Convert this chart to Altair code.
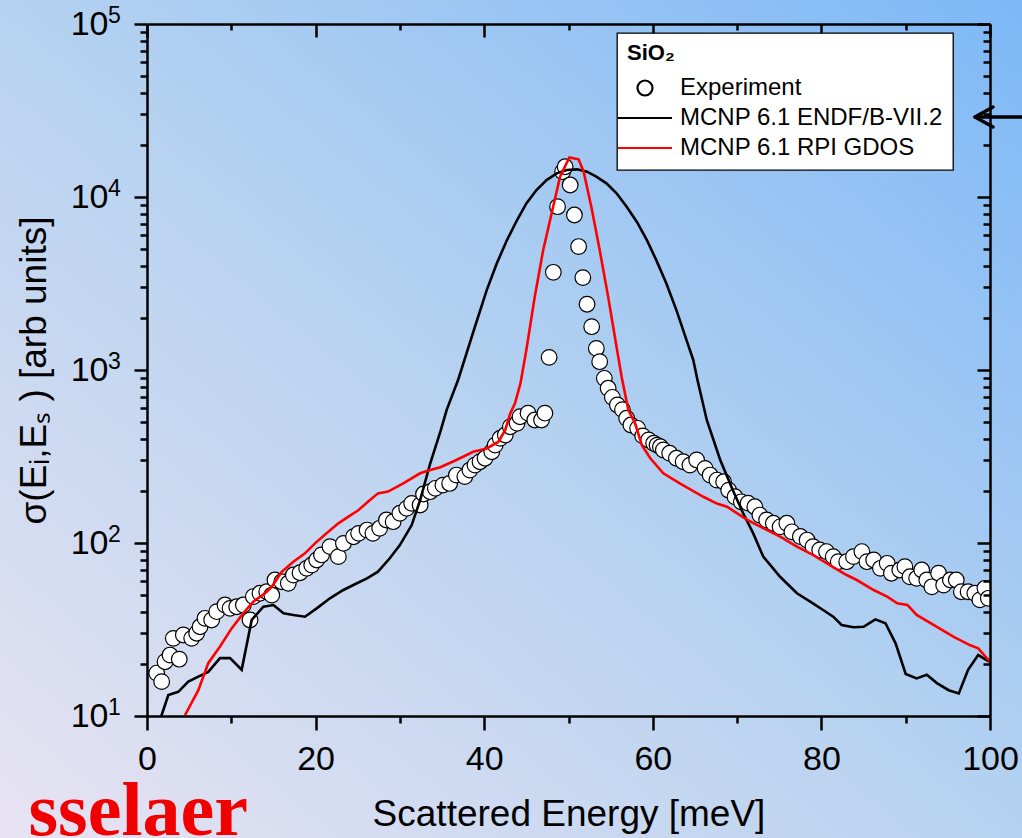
import altair as alt
import pandas as pd

# ---------------- data ----------------
series_names = ["Experiment", "MCNP 6.1 ENDF/B-VII.2", "MCNP 6.1 RPI GDOS"]

exp_x = [1.15, 1.74, 2.14, 2.73, 3.12, 3.83, 4.31, 5.30, 5.89, 6.29, 6.88, 7.67, 8.27, 9.25, 9.85,
         10.64, 11.43, 12.22, 12.61, 13.4, 14.2, 14.8, 15.18, 15.98, 16.76, 17.36, 18.15, 18.94,
         19.54, 20.13, 20.7, 21.7, 22.7, 23.3, 24.5, 25.1, 26.1, 26.8, 27.6, 28.4, 29.2, 30.0,
         30.8, 31.4, 32.4, 32.8, 33.6, 34.2, 35.1, 35.9, 36.7, 37.7, 38.3, 38.9, 39.5, 40.1, 40.9,
         41.3, 41.9, 42.5, 43.1, 43.9, 44.25, 45.2, 46.0, 46.8, 47.2, 47.7, 48.2, 48.7, 49.3, 49.6,
         50.2, 50.7, 51.2, 51.7, 52.2, 52.75, 53.3, 53.7, 54.25, 54.7, 55.2, 55.8, 56.4, 56.9,
         57.4, 58.2, 58.8, 59.5, 60.1, 60.5, 60.9, 61.25, 62.0, 62.8, 63.6, 64.4, 65.2, 66.2,
         66.8, 67.6, 68.4, 69.0, 69.75, 70.5, 71.3, 72.1, 72.7, 73.5, 74.3, 75.1, 75.9, 76.5,
         77.5, 78.3, 79.0, 79.8, 80.6, 81.4, 82.0, 83.0, 83.8, 84.8, 85.4, 86.2, 87.0, 87.8,
         88.3, 89.3, 89.9, 90.5, 91.3, 91.9, 92.5, 93.1, 93.9, 94.5, 95.3, 96.0, 96.6, 97.4,
         98.2, 98.8, 99.4, 99.8]
exp_y = [17.7, 15.8, 20.6, 22.5, 28.1, 21.3, 29.4, 28.1, 30.1, 32.8, 36.7, 35.9, 40.1, 43.8, 41.9,
         42.8, 43.8, 35.9, 49.0, 51.2, 52.3, 50.0, 61.1, 59.7, 58.5, 65.3, 67.3, 71.4,
         74.6, 79.8, 85.3, 95.3, 83.4, 99.5, 108.7, 113.7, 118.8, 113.7, 121.6, 135.8, 132.8, 148.5,
         158.5, 169.4, 165.9, 192.0, 198.0, 207.0, 216.0, 221.0, 247.0, 242.0, 264.0, 282.0, 295.0,
         309.0, 337.0, 368.0, 403.0, 421.0, 470.0, 492.0, 537.0, 563.0, 514.0, 514.0, 563.0, 1183.0,
         3670.0, 8790.0, 14000.0, 14960.0, 11730.0, 7870.0, 5170.0, 3420.0, 2400.0, 1780.0, 1333.0,
         1117.0, 895.0, 784.0, 695.0, 628.0, 590.0, 526.0, 481.0, 460.0, 416.0, 394.0, 377.0, 368.0,
         360.0, 345.0, 330.0, 309.0, 295.0, 282.0, 302.0, 270.0, 247.0, 231.0, 226.0, 202.0, 185.0,
         173.0, 170.0, 162.0, 145.0, 136.0, 130.0, 124.0, 130.0, 116.0, 109.0, 104.0, 95.3, 91.2,
         89.2, 83.4, 78.0, 78.0, 83.4, 89.2, 78.0, 79.8, 71.4, 76.3, 66.9, 69.8, 73.0, 63.8, 62.5,
         69.8, 61.1, 55.8, 66.9, 57.1, 61.1, 61.1, 52.3, 52.3, 51.2, 46.9, 54.7, 47.9]

endf_x = [1.7, 2.53, 3.71, 4.9, 6.09, 7.27, 8.66, 9.85, 11.23, 12.42, 13.8, 15.0, 16.2, 17.36, 18.74,
          20.13, 21.7, 23.3, 24.9, 26.1, 27.4, 28.8, 30.0, 31.4, 32.4, 33.6, 34.8, 35.55, 36.9,
          38.9, 40.3, 41.5, 42.7, 43.9, 45.0, 46.2, 47.4, 48.6, 49.8, 51.0, 52.2, 53.3, 54.5,
          55.7, 56.9, 58.1, 59.3, 60.4, 61.6, 62.8, 64.0, 64.8, 65.3, 66.4, 68.0, 69.5, 70.7,
          71.9, 73.1, 75.1, 77.1, 79.0, 80.2, 81.4, 82.4, 83.8, 85.0, 86.4, 87.6, 88.8, 90.0,
          91.3, 92.5, 93.7, 95.1, 96.3, 97.4, 98.6, 99.9]
endf_y = [10.0, 13.2, 13.8, 15.8, 16.9, 18.0, 21.6, 21.6, 18.5, 35.9, 42.8, 43.8, 39.3, 38.4, 37.5,
          41.9, 47.9, 53.5, 58.5, 62.5, 68.3, 81.6, 97.3, 127.0, 177.0, 289.0, 440.0, 588.0, 875.0,
          1778.0, 2897.0, 4140.0, 5636.0, 7360.0, 9183.0, 10970.0, 12530.0, 13700.0, 14320.0,
          14450.0, 14000.0, 13100.0, 12000.0, 10500.0, 8790.0, 7200.0, 5636.0, 4330.0, 3170.0,
          2220.0, 1489.0, 1143.0, 875.0, 514.0, 302.0, 202.0, 149.0, 114.0, 83.4, 63.8, 51.2,
          44.8, 41.0, 37.5, 33.6, 32.6, 32.8, 36.2, 34.4, 26.3, 17.5, 16.5, 17.3, 15.5, 14.1,
          13.5, 18.5, 22.5, 20.6]

rpi_x = [4.5, 6.09, 7.27, 8.66, 10.04, 11.43, 12.61, 14.0, 14.8, 15.98, 17.36, 18.74, 19.93, 21.3,
         22.7, 23.9, 25.1, 26.45, 27.4, 28.6, 30.4, 32.4, 33.6, 34.8, 36.7, 38.7, 40.3, 41.7,
         42.5, 43.1, 43.65, 44.3, 45.0, 46.0, 47.0, 48.0, 49.0, 50.1, 51.2, 51.8, 52.75, 53.7,
         54.7, 55.5, 56.3, 57.1, 57.9, 58.7, 59.7, 61.25, 63.2, 66.0, 67.6, 68.8, 71.2, 73.1,
         75.1, 77.1, 79.0, 81.0, 83.0, 84.2, 86.2, 87.8, 89.0, 90.2, 91.3, 93.7, 95.7, 97.6,
         98.6, 100.0]
rpi_y = [10.1, 14.1, 20.2, 25.2, 32.1, 39.3, 45.8, 51.2, 55.8, 68.2, 78.0, 87.1, 99.5, 113.7,
         130.0, 141.9, 155.2, 177.4, 193.6, 198.2, 221.3, 252.9, 264.2, 274.0, 302.0, 337.0,
         352.0, 385.0, 450.0, 562.0, 641.0, 836.0, 1306.0, 2655.0, 4943.0, 8054.0, 13090.0,
         16940.0, 16520.0, 14000.0, 8590.0, 4943.0, 2655.0, 1556.0, 914.0, 587.0, 492.0, 368.0,
         309.0, 253.0, 221.0, 185.0, 169.0, 162.0, 136.0, 122.0, 109.0, 95.3, 85.3, 74.6, 65.3,
         61.1, 53.5, 49.0, 44.8, 43.9, 38.4, 32.8, 28.7, 25.7, 24.6, 20.6]

x_ticks = [0, 10, 20, 30, 40, 50, 60, 70, 80, 90, 100]
y_exponents = [1, 2, 3, 4, 5]
y_ticks = [m * 10 ** e for e in range(1, 5) for m in range(1, 10)] + [10 ** 5]

x_title = "Scattered Energy [meV]"
y_title = "σ(Eᵢ,Eₛ ) [arb units]"
legend_title = "SiO₂"
logo_text = "sselaer"

# ---------------- tables ----------------
exp_df = pd.DataFrame({"energy": exp_x, "sigma": exp_y, "series": series_names[0]})
lines_df = pd.concat([
    pd.DataFrame({"energy": endf_x, "sigma": endf_y, "series": series_names[1]}),
    pd.DataFrame({"energy": rpi_x, "sigma": rpi_y, "series": series_names[2]}),
], ignore_index=True)
dec_df = pd.DataFrame({"val": [10 ** e for e in y_exponents], "lab": [str(e) for e in y_exponents]})
one = pd.DataFrame({"k": [0]})

W, H = 843, 692
FONT = "Liberation Sans"

xscale = alt.Scale(domain=[0, 100], nice=False, zero=False)
yscale = alt.Scale(type="log", domain=[10, 100000], nice=False)

LINE_PATH = "M-3.6,0H3.6"
shape_scale = alt.Scale(domain=series_names, range=["circle", LINE_PATH, LINE_PATH])
fill_scale = alt.Scale(domain=series_names, range=["white", "transparent", "transparent"])
stroke_scale = alt.Scale(domain=series_names, range=["black", "black", "#ff0000"])

leg = alt.Legend(title=legend_title, orient="none", legendX=470, legendY=9, zindex=2)

major_y = "indexof([10,100,1000,10000,100000], datum.value) >= 0"
major_x = "datum.value % 20 === 0"

common_axis = dict(grid=False, zindex=1, domainWidth=2.5, tickWidth=2.5,
                   domainColor="black", tickColor="black", labelColor="black",
                   titleColor="black", labelFont=FONT, titleFont=FONT)

bottom_axis = alt.Axis(orient="bottom", values=x_ticks,
                       tickSize={"condition": {"test": major_x, "value": 14}, "value": 7},
                       labelExpr="datum.value % 20 === 0 ? datum.label : ''",
                       labelFontSize=34, labelPadding=12, labelFlush=False, labelOverlap=False,
                       title=x_title, titleFontSize=37, titleFontWeight="normal", titlePadding=20,
                       **common_axis)
top_axis = alt.Axis(orient="bottom", offset=-H, values=x_ticks,
                    tickSize={"condition": {"test": major_x, "value": 13}, "value": 6},
                    labels=False, title=None, **common_axis)
left_axis = alt.Axis(orient="left", values=y_ticks,
                     tickSize={"condition": {"test": major_y, "value": 13}, "value": 7},
                     labelExpr=major_y + " ? '10' : ''",
                     labelFontSize=34, labelPadding=26, labelOverlap=False, labelFlush=False,
                     title=y_title, titleFontSize=37, titleFontWeight="normal", titlePadding=17,
                     **common_axis)
right_axis = alt.Axis(orient="left", offset=-W, values=y_ticks,
                      tickSize={"condition": {"test": major_y, "value": 13}, "value": 7},
                      labels=False, title=None, **common_axis)

# ---------------- layers ----------------
background = alt.Chart(one).mark_rect(
    fill=alt.LinearGradient(
        gradient="linear",
        stops=[alt.GradientStop(color="#e8e3f2", offset=0),
               alt.GradientStop(color="#b6d2f0", offset=0.5),
               alt.GradientStop(color="#7db8f7", offset=1)],
        x1=0, y1=1, x2=1, y2=0),
    stroke=None,
).encode(x=alt.value(-147), x2=alt.value(875), y=alt.value(-24), y2=alt.value(814))

points = alt.Chart(exp_df).mark_point(filled=True, opacity=1, clip=True).encode(
    x=alt.X("energy:Q", scale=xscale, axis=bottom_axis),
    y=alt.Y("sigma:Q", scale=yscale, axis=left_axis),
    shape=alt.Shape("series:N", scale=shape_scale, legend=leg),
    fill=alt.Fill("series:N", scale=fill_scale, legend=leg),
    stroke=alt.Stroke("series:N", scale=stroke_scale, legend=leg),
    size=alt.value(245),
    strokeWidth=alt.value(1.2),
)

lines = alt.Chart(lines_df).mark_line(strokeWidth=2.6, clip=True).encode(
    x=alt.X("energy:Q", scale=xscale, axis=top_axis),
    y=alt.Y("sigma:Q", scale=yscale, axis=right_axis),
    stroke=alt.Stroke("series:N", scale=stroke_scale, legend=leg),
)

exponents = alt.Chart(dec_df).mark_text(
    align="left", baseline="middle", dy=-8, fontSize=23, font=FONT, color="black"
).encode(
    x=alt.value(-39),
    y=alt.Y("val:Q", scale=yscale, axis=None),
    text="lab:N",
)

logo = alt.Chart(one).mark_text(
    text=logo_text, align="right", baseline="alphabetic", fontSize=76,
    font="Liberation Serif", fontWeight="bold", color="#f00000"
).encode(x=alt.value(101), y=alt.value(811))

arrow_shaft = alt.Chart(one).mark_rule(strokeWidth=3.5, color="black").encode(
    x=alt.value(829), x2=alt.value(880), y=alt.value(93), y2=alt.value(93))
arrow_up = alt.Chart(one).mark_rule(strokeWidth=3.5, color="black", strokeCap="round").encode(
    x=alt.value(828), x2=alt.value(846), y=alt.value(93), y2=alt.value(83))
arrow_dn = alt.Chart(one).mark_rule(strokeWidth=3.5, color="black", strokeCap="round").encode(
    x=alt.value(828), x2=alt.value(846), y=alt.value(93), y2=alt.value(103))

chart = alt.layer(
    background, points, lines, exponents, logo, arrow_shaft, arrow_up, arrow_dn
).resolve_axis(
    x="independent", y="independent"
).properties(
    width=W, height=H,
    padding={"left": 147, "top": 24, "right": 32, "bottom": 122},
    autosize=alt.AutoSizeParams(type="none"),
    background="#b6d2f0",
).configure_view(
    stroke=None
).configure_legend(
    padding=10, fillColor="white", strokeColor="black", strokeWidth=1.3, cornerRadius=0,
    symbolSize=225, symbolStrokeWidth=2.2, symbolOffset=6, labelOffset=23,
    labelFontSize=24, labelFont=FONT, labelColor="black", labelLimit=400,
    titleFontSize=22, titleFont=FONT, titleFontWeight="bold", titleColor="black",
    titlePadding=11, rowPadding=6, titleLimit=300,
)

chart.save("out.html", embed_options={"renderer": "svg", "actions": False})
